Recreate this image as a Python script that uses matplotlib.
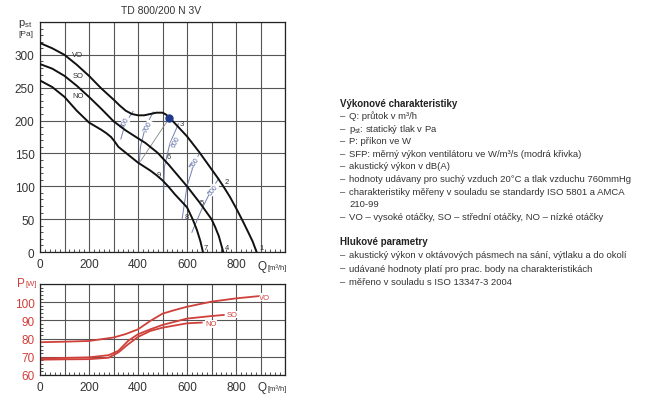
import matplotlib
matplotlib.use("Agg")
import matplotlib.pyplot as plt
import numpy as np
from matplotlib.ticker import MultipleLocator, FixedLocator

plt.rcParams['font.family'] = ['Liberation Sans', 'DejaVu Sans']
plt.rcParams['mathtext.fontset'] = 'custom'
plt.rcParams['mathtext.rm'] = 'Liberation Sans'

W, H = 648, 414

# pressure curves (Q in m3/h, p in Pa)
vo_q = [0, 50, 100, 150, 200, 250, 300, 325, 350, 375, 400, 425, 450, 475, 500, 515, 528,
        545, 560, 580, 600, 625, 650, 675, 700, 725, 750, 775, 800, 825, 850, 868, 884]
vo_p = [318, 310, 300, 285, 268, 249, 232, 223, 215, 210, 208, 208, 210, 212, 212, 209, 204,
        198, 192, 184, 176, 164, 152, 139, 126, 113, 99, 84, 67, 49, 30, 16, 0]
so_q = [0, 50, 100, 150, 200, 250, 300, 325, 350, 375, 400, 430, 460, 480, 500, 525, 550,
        575, 600, 625, 650, 675, 700, 715, 730, 748]
so_p = [286, 279, 268, 253, 236, 218, 199, 192, 185, 179, 173, 166, 157, 151, 143, 133, 122,
        111, 100, 88, 76, 63, 50, 38, 24, 0]
no_q = [0, 50, 100, 150, 200, 250, 270, 290, 305, 320, 340, 370, 400, 425, 450, 475, 500,
        523, 550, 575, 600, 623, 640, 655, 665]
no_p = [261, 251, 236, 215, 197, 186, 181, 175, 168, 160, 154, 145, 136, 130, 124, 117, 109,
        100, 88, 78, 68, 50, 34, 16, 0]

# SFP lines (blue)
sfp_labels = ['800', '700', '600', '550', '500']
sfp_q = [[330, 340, 360, 380], [405, 410, 430, 462], [505, 508, 530, 565],
         [580, 600, 625, 650], [620, 660, 700, 730]]
sfp_p = [[172, 185, 203, 214], [135, 160, 190, 213], [95, 130, 165, 195],
         [50, 100, 130, 150], [30, 65, 95, 112]]
sfp_lab_q = [347, 442, 555, 633, 706]
sfp_lab_p = [197, 191, 169, 136, 95]
sfp_rot = [62, 62, 62, 55, 50]

# measuring points
pt_labels = ['1', '2', '3', '4', '5', '6', '7', '8', '9']
pt_q = [905, 762, 578, 762, 660, 524, 678, 601, 483]
pt_p = [7, 107, 196, 7, 75, 146, 7, 54, 118]
dot_q, dot_p = 528, 204

# power curves (W)
pvo_q = [0, 100, 200, 300, 350, 400, 450, 500, 550, 600, 700, 800, 890]
pvo_p = [78.0, 78.3, 78.7, 80.6, 82.5, 85.1, 89.7, 93.7, 95.7, 97.5, 100.3, 102.1, 103.3]
pso_q = [0, 100, 200, 280, 320, 360, 400, 450, 500, 600, 700, 750]
pso_p = [69.1, 69.4, 69.7, 70.9, 73.3, 78.8, 82.4, 85.1, 87.5, 91.0, 92.4, 93.0]
pno_q = [0, 100, 200, 280, 320, 360, 400, 450, 500, 600, 660]
pno_p = [68.4, 68.6, 68.7, 69.5, 72.4, 76.9, 80.9, 84.2, 86.0, 88.4, 88.8]

RED = '#d0403a'
GRID = '#555555'
TXT = '#333333'


def fx(px):
    return px / W


def fy(py):
    return 1 - py / H


fig = plt.figure(figsize=(6.48, 4.14), dpi=100)

# --- top chart ---
ax = fig.add_axes([fx(40), fy(253), fx(245), 230 / H])
ax.set_xlim(0, 1000)
ax.set_ylim(0, 350)
ax.xaxis.set_major_locator(MultipleLocator(100))
ax.yaxis.set_major_locator(MultipleLocator(50))
ax.xaxis.set_minor_locator(MultipleLocator(20))
ax.yaxis.set_minor_locator(MultipleLocator(10))
ax.set_xticklabels(['' if (v % 200 or v > 800) else str(int(v)) for v in ax.get_xticks()])
ax.set_yticklabels(['' if v > 300 else str(int(v)) for v in ax.get_yticks()])
ax.grid(True, which='major', color=GRID, lw=0.8)
ax.tick_params(which='major', length=0, labelsize=8.5, labelcolor=TXT, pad=4)
ax.tick_params(which='minor', direction='in', length=2, width=0.6, color=TXT)
for s in ax.spines.values():
    s.set_color('#222222')
    s.set_linewidth(0.9)

for q, p in zip(sfp_q, sfp_p):
    ax.plot(q, p, color='#6f7fb0', lw=0.7, zorder=2)
for lab, q, p, r in zip(sfp_labels, sfp_lab_q, sfp_lab_p, sfp_rot):
    ax.text(q, p, lab, color='#5566a0', fontsize=5, rotation=r, ha='center', va='center',
            bbox=dict(fc='white', ec='none', pad=0.3), zorder=3)
ax.plot([dot_q, 410], [dot_p, 138], color='#888888', lw=0.6, zorder=2)

ax.plot(vo_q, vo_p, color='#111111', lw=1.4, zorder=4)
ax.plot(so_q, so_p, color='#111111', lw=1.4, zorder=4)
ax.plot(no_q, no_p, color='#111111', lw=1.4, zorder=4)
for lab, p in zip(['VO', 'SO', 'NO'], [300, 269, 238]):
    ax.text(155, p, lab, fontsize=5.5, color=TXT, ha='center', va='center')
ax.plot([dot_q], [dot_p], 'o', color='#1f3a8a', ms=5, zorder=5)
for lab, q, p in zip(pt_labels, pt_q, pt_p):
    ax.text(q, p, lab, fontsize=5.5, color=TXT, ha='center', va='center', zorder=5)

# --- bottom chart ---
bx = fig.add_axes([fx(40), fy(376), fx(245), 91 / H])
bx.set_xlim(0, 1000)
bx.set_ylim(60, 110)
bx.xaxis.set_major_locator(MultipleLocator(100))
bx.yaxis.set_major_locator(MultipleLocator(10))
bx.xaxis.set_minor_locator(MultipleLocator(20))
bx.yaxis.set_minor_locator(MultipleLocator(2))
bx.set_xticklabels(['' if (v % 200 or v > 800) else str(int(v)) for v in bx.get_xticks()])
bx.set_yticklabels(['' if v > 100 else str(int(v)) for v in bx.get_yticks()])
bx.grid(True, which='major', color=GRID, lw=0.8)
bx.tick_params(which='major', length=0, labelsize=8.5, pad=4)
bx.tick_params(axis='x', labelcolor=TXT)
bx.tick_params(axis='y', labelcolor=RED)
bx.tick_params(which='minor', direction='in', length=2, width=0.6, color=TXT)
for s in bx.spines.values():
    s.set_color('#222222')
    s.set_linewidth(0.9)

bx.plot(pvo_q, pvo_p, color=RED, lw=1.3)
bx.plot(pso_q, pso_p, color=RED, lw=1.3)
bx.plot(pno_q, pno_p, color=RED, lw=1.3)
for lab, q, p in zip(['VO', 'SO', 'NO'], [918, 786, 697], [102.8, 93.3, 88.2]):
    bx.text(q, p, lab, fontsize=5.5, color=RED, ha='center', va='center',
            bbox=dict(fc='white', ec='none', pad=0.3))

# --- axis captions ---
fig.text(fx(161), fy(11), 'TD 800/200 N 3V', fontsize=7.5, color=TXT, ha='center', va='center')
fig.text(fx(18), fy(24), r'$\mathregular{p_{st}}$', fontsize=8, color=TXT, ha='left', va='center')
fig.text(fx(18), fy(34), '[Pa]', fontsize=6, color=TXT, ha='left', va='center')
fig.text(fx(258), fy(267), 'Q', fontsize=8.5, color=TXT, ha='left', va='center')
fig.text(fx(268), fy(268), '[m³/h]', fontsize=5.5, color=TXT, ha='left', va='center')
fig.text(fx(17), fy(284), 'P', fontsize=8.5, color=RED, ha='left', va='center')
fig.text(fx(25), fy(285), '[W]', fontsize=5.5, color=RED, ha='left', va='center')
fig.text(fx(258), fy(388), 'Q', fontsize=8.5, color=TXT, ha='left', va='center')
fig.text(fx(268), fy(389), '[m³/h]', fontsize=5.5, color=TXT, ha='left', va='center')

# --- description text ---
perf_lines = ['Q: průtok v m³/h',
              r'$\mathregular{p_{st}}$: statický tlak v Pa',
              'P: příkon ve W',
              'SFP: měrný výkon ventilátoru ve W/m³/s (modrá křivka)',
              'akustický výkon v dB(A)',
              'hodnoty udávany pro suchý vzduch 20°C a tlak vzduchu 760mmHg',
              'charakteristiky měřeny v souladu se standardy ISO 5801 a AMCA',
              '210-99',
              'VO – vysoké otáčky, SO – střední otáčky, NO – nízké otáčky']
noise_lines = ['akustický výkon v oktávových pásmech na sání, výtlaku a do okolí',
               'udávané hodnoty platí pro prac. body na charakteristikách',
               'měřeno v souladu s ISO 13347-3 2004']

tx, step = 340, 12.6
fig.text(fx(tx), fy(104), 'Výkonové charakteristiky', fontsize=7, fontweight='bold',
         color='#222222', ha='left', va='center')
y = 104
for i, line in enumerate(perf_lines):
    y += step
    if line != '210-99':
        fig.text(fx(tx), fy(y), '–', fontsize=6.8, color=TXT, ha='left', va='center')
    fig.text(fx(tx + 9), fy(y), line, fontsize=6.8, color=TXT, ha='left', va='center')

y = 242
fig.text(fx(tx), fy(y), 'Hlukové parametry', fontsize=7, fontweight='bold',
         color='#222222', ha='left', va='center')
for line in noise_lines:
    y += 13.5
    fig.text(fx(tx), fy(y), '–', fontsize=6.8, color=TXT, ha='left', va='center')
    fig.text(fx(tx + 9), fy(y), line, fontsize=6.8, color=TXT, ha='left', va='center')

fig.savefig('out.png', dpi=100)
